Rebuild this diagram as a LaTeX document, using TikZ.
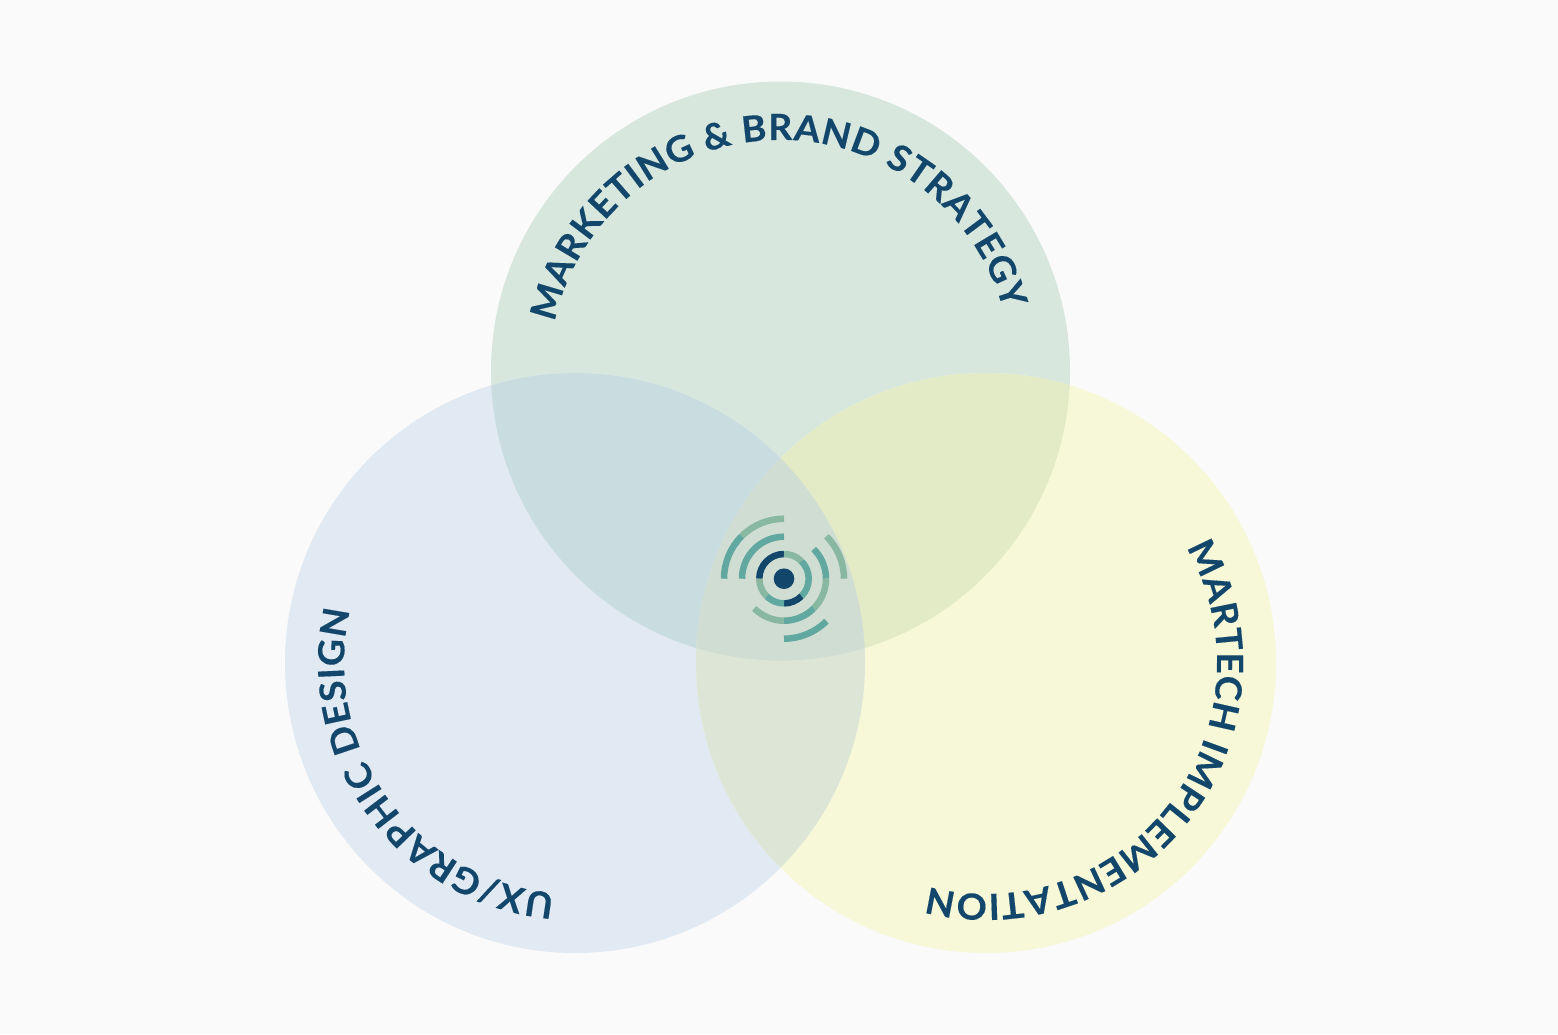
\documentclass[tikz,border=0pt]{standalone}
\usepackage{fontspec}
\setmainfont{Lato}[UprightFont=* Bold,FakeStretch=1.04,FakeBold=0.3]
\usetikzlibrary{decorations.text,calc}
\definecolor{bgc}{HTML}{FAFAFA}
\definecolor{topc}{HTML}{D8E7DE}
\definecolor{leftc}{HTML}{E1E9F2}
\definecolor{rightc}{HTML}{F6F8D8}
\definecolor{tlc}{HTML}{C9DCE0}
\definecolor{trc}{HTML}{E3EBC6}
\definecolor{lrc}{HTML}{DDE5D6}
\definecolor{midc}{HTML}{D0DDD3}
\definecolor{navy}{HTML}{12466B}
\definecolor{teal}{HTML}{60A8A0}
\definecolor{sage}{HTML}{88B8A0}
\tikzset{x=1pt,y=-1pt,
 circletitle/.style={decorate,decoration={text along path,text align={fit to path},
   text={|\fontsize{36}{36}\selectfont\color{navy}|#1}}},
 logoarc/.style={line width=6.5pt,line cap=butt}}
\newcommand{\ringarc}[4]{\draw[logoarc,#1] ($(L)+(#2:#4 and -#4)$) arc[start angle=-#2,end angle=-#3,radius=#4];}
\begin{document}
\begin{tikzpicture}
\useasboundingbox (0,0) rectangle (1558,1034);
\fill[bgc] (0,0) rectangle (1558,1034);
\coordinate (T) at (780.5,371);
\coordinate (A) at (575,663);
\coordinate (R) at (986,663);
\coordinate (L) at (784,578.7);
\fill[topc] (T) circle[radius=289.5];
\fill[leftc] (A) circle[radius=290];
\fill[rightc] (R) circle[radius=290];
\begin{scope}\clip (T) circle[radius=289.5]; \fill[tlc] (A) circle[radius=290]; \fill[trc] (R) circle[radius=290];\end{scope}
\begin{scope}\clip (A) circle[radius=290]; \fill[lrc] (R) circle[radius=290];\end{scope}
\begin{scope}\clip (T) circle[radius=289.5]; \clip (A) circle[radius=290]; \fill[midc] (R) circle[radius=290];\end{scope}
% logo
\fill[navy] (L) circle[radius=10.3];
\ringarc{navy}{90}{180}{24.7}
\ringarc{sage}{90}{45}{24.7}
\ringarc{teal}{45}{-45}{24.7}
\ringarc{navy}{-45}{-90}{24.7}
\ringarc{teal}{-90}{-135}{24.7}
\ringarc{sage}{-135}{-180}{24.7}
\ringarc{teal}{90}{180}{42}
\ringarc{teal}{45}{0}{42}
\ringarc{sage}{0}{-45}{42}
\ringarc{teal}{-45}{-90}{42}
\ringarc{sage}{-90}{-135}{42}
\ringarc{sage}{90}{135}{60}
\ringarc{teal}{135}{180}{60}
\ringarc{sage}{45}{0}{60}
\ringarc{teal}{-90}{-45}{60}
% titles
\path[circletitle={MARKETING {\&} BRAND STRATEGY}] ($(T)+(167.8:231 and -231)$) arc[start angle=-167.8,end angle=-15.3,radius=231];
\path[circletitle={MARTECH IMPLEMENTATION}] ($(R)+(30:231 and -231)$) arc[start angle=-30,end angle=104.4,radius=231];
\path[circletitle={UX/GRAPHIC DESIGN}] ($(A)+(265:231 and -231)$) arc[start angle=-265,end angle=-166.8,radius=231];
\end{tikzpicture}
\end{document}
